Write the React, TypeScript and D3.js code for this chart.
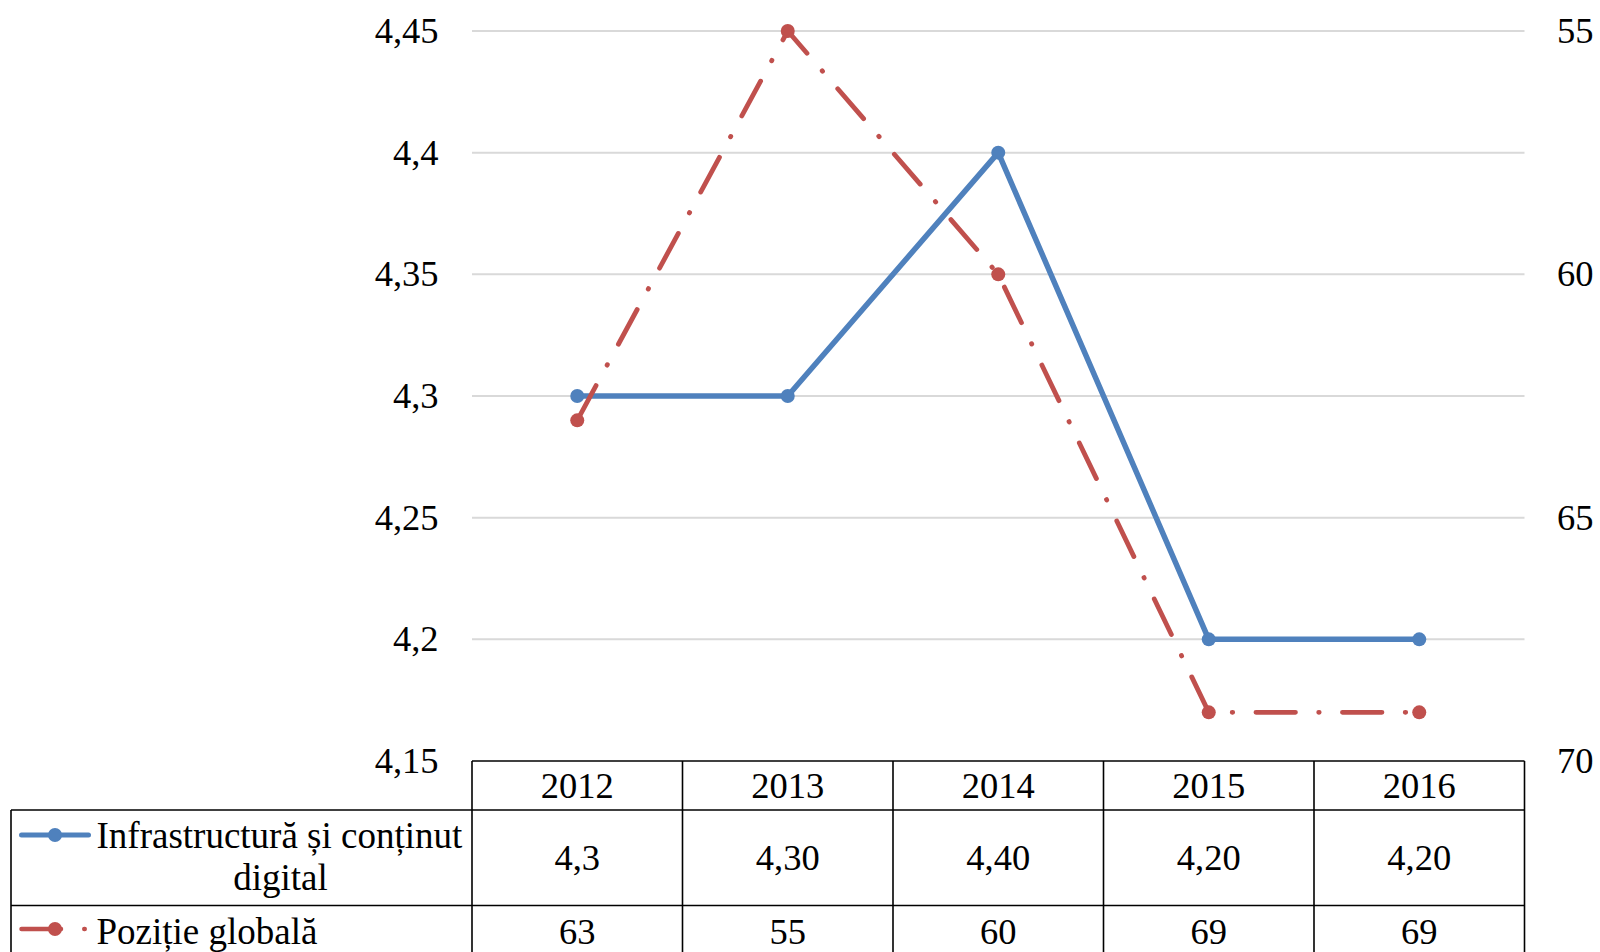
import React from "react";
import * as d3 from "d3";

const years = ["2012", "2013", "2014", "2015", "2016"];
const infra = [4.3, 4.3, 4.4, 4.2, 4.2];
const infraLabels = ["4,3", "4,30", "4,40", "4,20", "4,20"];
const pozitie = [63, 55, 60, 69, 69];
const pozitieLabels = ["63", "55", "60", "69", "69"];
const leftTicks = [4.15, 4.2, 4.25, 4.3, 4.35, 4.4, 4.45];
const leftTickLabels = ["4,15", "4,2", "4,25", "4,3", "4,35", "4,4", "4,45"];
const rightTicks = [55, 60, 65, 70];
const rightTickLabels = ["55", "60", "65", "70"];
const seriesNames = ["Infrastructură și conținut", "digital", "Poziție globală"];

const W = 1600;
const H = 952;
const BLUE = "#4F81BD";
const RED = "#C0504D";
const FONT = '"Times New Roman", Tinos, "Nimbus Roman", serif';
const DASH = "39.5 23.25 0.5 23.25";

export default function App() {
  const plotL = 472;
  const plotR = 1524.5;
  const plotT = 31;
  const plotB = 761;
  const x = d3.scaleBand<string>().domain(years).range([plotL, plotR]);
  const cx = (y: string) => (x(y) as number) + x.bandwidth() / 2;
  const yL = d3.scaleLinear().domain([4.15, 4.45]).range([plotB, plotT]);
  const yR = d3.scaleLinear().domain([70, 55]).range([plotB, plotT]);

  const blueLine = d3
    .line<number>()
    .x((_, i) => cx(years[i]))
    .y((d) => yL(d))(infra) as string;
  const redLine = d3
    .line<number>()
    .x((_, i) => cx(years[i]))
    .y((d) => yR(d))(pozitie) as string;

  const tableLeft = 11;
  const headerBottom = 810;
  const row2Bottom = 905.5;
  const edges = years.map((y) => x(y) as number).concat([plotR]);
  const textStyle = { fontFamily: FONT, fontSize: "36.5px" };
  const legendStyle = { fontFamily: FONT, fontSize: "37px" };

  return (
    <svg
      width={W}
      height={H}
      style={{ position: "absolute", left: 0, top: 0, background: "#fff", fontFamily: FONT, fontSize: "36px" }}
    >
      <rect x={0} y={0} width={W} height={H} fill="#fff" />
      {/* gridlines */}
      {leftTicks.slice(1).map((t) => (
        <line key={t} x1={plotL} x2={plotR} y1={yL(t)} y2={yL(t)} stroke="#D9D9D9" strokeWidth={2} />
      ))}
      {/* left axis labels */}
      {leftTicks.map((t, i) => (
        <text key={t} x={438.5} y={yL(t)} dy="0.33em" textAnchor="end" fill="#000" style={textStyle}>
          {leftTickLabels[i]}
        </text>
      ))}
      {/* right axis labels */}
      {rightTicks.map((t, i) => (
        <text key={t} x={1557} y={yR(t)} dy="0.33em" textAnchor="start" fill="#000" style={textStyle}>
          {rightTickLabels[i]}
        </text>
      ))}

      {/* table lines */}
      <g stroke="#000" strokeWidth={1.6}>
        <line x1={plotL} x2={plotR} y1={plotB} y2={plotB} />
        <line x1={tableLeft} x2={plotR} y1={headerBottom} y2={headerBottom} />
        <line x1={tableLeft} x2={plotR} y1={row2Bottom} y2={row2Bottom} />
        <line x1={tableLeft} x2={tableLeft} y1={headerBottom} y2={H} />
        {edges.map((e, i) => (
          <line key={i} x1={e} x2={e} y1={plotB} y2={H} />
        ))}
      </g>
      {/* table texts */}
      {years.map((yr, i) => (
        <g key={yr}>
          <text x={cx(yr)} y={798} textAnchor="middle" style={textStyle}>{yr}</text>
          <text x={cx(yr)} y={870} textAnchor="middle" style={textStyle}>{infraLabels[i]}</text>
          <text x={cx(yr)} y={944} textAnchor="middle" style={textStyle}>{pozitieLabels[i]}</text>
        </g>
      ))}
      {/* legend keys */}
      <line x1={21.5} x2={88.5} y1={835} y2={835} stroke={BLUE} strokeWidth={5} strokeLinecap="round" />
      <circle cx={55} cy={835} r={7} fill={BLUE} />
      <line x1={21.5} x2={88.5} y1={929} y2={929} stroke={RED} strokeWidth={4.5} strokeLinecap="round" strokeDasharray={DASH} />
      <circle cx={55} cy={929} r={7} fill={RED} />
      <text x={96.5} y={848} textAnchor="start" style={legendStyle}>{seriesNames[0]}</text>
      <text x={280.5} y={890} textAnchor="middle" style={legendStyle}>{seriesNames[1]}</text>
      <text x={96.5} y={944} textAnchor="start" style={legendStyle}>{seriesNames[2]}</text>

      {/* series */}
      <path d={blueLine} fill="none" stroke={BLUE} strokeWidth={5.5} strokeLinejoin="round" strokeLinecap="round" />
      {infra.map((v, i) => (
        <circle key={i} cx={cx(years[i])} cy={yL(v)} r={7} fill={BLUE} />
      ))}
      <path d={redLine} fill="none" stroke={RED} strokeWidth={4.8} strokeLinecap="round" strokeDasharray={DASH} />
      {pozitie.map((v, i) => (
        <circle key={i} cx={cx(years[i])} cy={yR(v)} r={7} fill={RED} />
      ))}
    </svg>
  );
}
